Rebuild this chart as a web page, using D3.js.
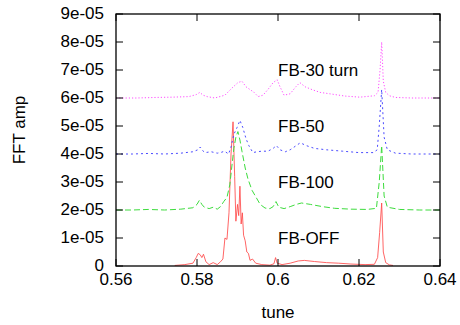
<!DOCTYPE html>
<html>
<head>
<meta charset="utf-8">
<script src="https://cdn.jsdelivr.net/npm/d3@7"></script>
<style>
	body { margin: 0; background: #fff; }
	svg { font-family: 'Liberation Sans', Arial, sans-serif; }
</style>
</head>
<body>
<svg width="460" height="325"></svg>
<script>
// amplitudes are in units of 1e-5
const offTune = [0.5745, 0.577, 0.579, 0.5798, 0.5803, 0.5808, 0.5812, 0.5816, 0.5822, 0.583, 0.584, 0.585, 0.5858, 0.5864, 0.5869, 0.5874, 0.5879, 0.5884, 0.5889, 0.5893, 0.5896, 0.59, 0.5903, 0.5906, 0.5909, 0.5912, 0.5915, 0.5919, 0.5923, 0.5927, 0.5931, 0.5937, 0.5945, 0.596, 0.598, 0.599, 0.5994, 0.5998, 0.601, 0.603, 0.605, 0.6065, 0.609, 0.612, 0.615, 0.618, 0.6215, 0.6238, 0.6246, 0.6251, 0.6256, 0.626, 0.6266, 0.6275, 0.6284];
const offAmp = [0.02, 0.05, 0.1, 0.3, 0.45, 0.4, 0.3, 0.42, 0.15, 0.05, 0.12, 0.05, 0.15, 0.25, 1.0, 0.95, 1.9, 4.0, 5.15, 3.2, 1.6, 2.2, 1.8, 2.85, 1.5, 1.9, 1.1, 0.9, 0.5, 0.45, 0.2, 0.25, 0.1, 0.05, 0.03, 0.08, 0.3, 0.1, 0.05, 0.1, 0.18, 0.2, 0.16, 0.12, 0.1, 0.07, 0.05, 0.06, 0.3, 1.2, 2.25, 0.5, 0.12, 0.04, 0.02];

const fb100Tune = [0.56, 0.564, 0.568, 0.572, 0.576, 0.579, 0.58, 0.5806, 0.5812, 0.5818, 0.583, 0.584, 0.585, 0.5858, 0.5866, 0.5874, 0.5881, 0.5891, 0.5896, 0.5901, 0.5906, 0.5911, 0.5919, 0.5926, 0.5936, 0.5946, 0.5956, 0.5968, 0.598, 0.5988, 0.5995, 0.6002, 0.6015, 0.603, 0.6045, 0.6058, 0.608, 0.611, 0.614, 0.618, 0.622, 0.6243, 0.625, 0.6256, 0.6262, 0.627, 0.63, 0.635, 0.64];
const fb100Amp = [2.0, 2.0, 2.02, 2.0, 2.03, 2.08, 2.2, 2.35, 2.2, 2.1, 2.05, 2.1, 2.03, 2.12, 2.3, 2.45, 2.9, 4.2, 4.6, 4.8, 4.5, 4.1, 3.5, 3.1, 2.7, 2.45, 2.2, 2.07, 2.05, 2.12, 2.3, 2.1, 2.05, 2.12, 2.2, 2.25, 2.2, 2.12, 2.06, 2.03, 2.02, 2.06, 3.0, 4.3, 2.5, 2.1, 2.02, 2.0, 2.0];

const fb50Tune = [0.56, 0.564, 0.568, 0.572, 0.576, 0.579, 0.5802, 0.5808, 0.5814, 0.582, 0.5835, 0.585, 0.586, 0.5868, 0.5878, 0.5884, 0.5891, 0.5899, 0.5906, 0.5913, 0.5921, 0.5928, 0.5938, 0.5948, 0.596, 0.5975, 0.5988, 0.5996, 0.6005, 0.6018, 0.603, 0.6045, 0.6055, 0.607, 0.609, 0.612, 0.616, 0.62, 0.6235, 0.6245, 0.625, 0.6256, 0.6262, 0.627, 0.629, 0.633, 0.64];
const fb50Amp = [4.0, 4.0, 4.02, 4.0, 4.03, 4.08, 4.15, 4.25, 4.12, 4.05, 4.08, 4.03, 4.06, 4.1, 4.0, 4.25, 4.7, 4.95, 5.2, 4.95, 4.55, 4.3, 4.05, 4.08, 4.1, 4.1, 4.2, 4.3, 4.15, 4.08, 4.15, 4.3, 4.4, 4.3, 4.2, 4.15, 4.1, 4.05, 4.05, 4.15, 5.0, 6.3, 4.6, 4.15, 4.03, 4.0, 4.0];

const fb30Tune = [0.56, 0.565, 0.57, 0.574, 0.578, 0.5798, 0.5807, 0.5815, 0.5825, 0.5844, 0.5869, 0.5886, 0.5901, 0.5911, 0.5921, 0.5931, 0.5941, 0.5951, 0.5963, 0.5975, 0.5988, 0.5998, 0.6005, 0.6015, 0.603, 0.6044, 0.6054, 0.6067, 0.6084, 0.6104, 0.6128, 0.6165, 0.6202, 0.6238, 0.6247, 0.6252, 0.6256, 0.626, 0.6266, 0.6275, 0.629, 0.633, 0.64];
const fb30Amp = [6.0, 6.0, 6.02, 6.03, 6.05, 6.12, 6.2, 6.1, 6.05, 6.0, 6.1, 6.35, 6.55, 6.6, 6.4, 6.3, 6.2, 6.05, 6.1, 6.3, 6.55, 6.65, 6.4, 6.1, 6.15, 6.4, 6.55, 6.4, 6.3, 6.2, 6.15, 6.07, 6.03, 6.08, 6.2, 7.0, 8.0, 6.6, 6.2, 6.08, 6.02, 6.0, 6.0];

const seriesNames = ['FB-OFF', 'FB-100', 'FB-50', 'FB-30 turn'];
const labelPos = [[0.6, 1], [0.6, 3], [0.6, 5], [0.6, 7]];

const xTicks = [0.56, 0.58, 0.6, 0.62, 0.64];
const xTickLabels = ['0.56', '0.58', '0.6', '0.62', '0.64'];
const yTicks = [0, 1, 2, 3, 4, 5, 6, 7, 8, 9];
const yTickLabels = ['0', '1e-05', '2e-05', '3e-05', '4e-05', '5e-05', '6e-05', '7e-05', '8e-05', '9e-05'];

let svg = d3.select('svg'),
	margin = {top: 14, right: 20, bottom: 59, left: 116},
	width = +svg.attr('width') - margin.left - margin.right,
	height = +svg.attr('height') - margin.top - margin.bottom,
	g = svg.append('g').attr('transform', `translate(${margin.left}, ${margin.top})`);

let x = d3.scaleLinear().domain([0.56, 0.64]).range([0, width]),
	y = d3.scaleLinear().domain([0, 9]).range([height, 0]);

let line = d3.line()
	.x(d => x(d[0]))
	.y(d => y(d[1]));

let series = [
	{data: d3.zip(offTune, offAmp), color: '#ff4a4a', dash: null, opacity: 0.85},
	{data: d3.zip(fb100Tune, fb100Amp), color: '#3ddc3d', dash: '6,3', opacity: 1},
	{data: d3.zip(fb50Tune, fb50Amp), color: '#4b4bff', dash: '2,3', opacity: 1},
	{data: d3.zip(fb30Tune, fb30Amp), color: '#ff4dff', dash: '1.2,2', opacity: 1}
];

series.forEach(s => {
	g.append('path')
		.datum(s.data)
		.attr('fill', 'none')
		.attr('stroke', s.color)
		.attr('stroke-width', 1)
		.attr('stroke-opacity', s.opacity)
		.attr('stroke-dasharray', s.dash)
		.attr('stroke-linejoin', 'round')
		.attr('d', line);
});

// ticks on all four sides, pointing in
let tickLen = 7;
let ticks = g.append('g').attr('stroke', '#000').attr('stroke-width', 1);
xTicks.forEach(t => {
	ticks.append('line').attr('x1', x(t)).attr('x2', x(t)).attr('y1', height).attr('y2', height - tickLen);
	ticks.append('line').attr('x1', x(t)).attr('x2', x(t)).attr('y1', 0).attr('y2', tickLen);
});
yTicks.forEach(t => {
	ticks.append('line').attr('x1', 0).attr('x2', tickLen).attr('y1', y(t)).attr('y2', y(t));
	ticks.append('line').attr('x1', width).attr('x2', width - tickLen).attr('y1', y(t)).attr('y2', y(t));
});

g.append('rect')
	.attr('width', width)
	.attr('height', height)
	.attr('fill', 'none')
	.attr('stroke', '#000')
	.attr('stroke-width', 1.3);

g.selectAll('text.xlab')
	.data(xTicks)
	.enter()
	.append('text')
	.attr('class', 'xlab')
	.attr('x', d => x(d))
	.attr('y', height + 19)
	.attr('text-anchor', 'middle')
	.attr('font-size', 17)
	.text((d, i) => xTickLabels[i]);

g.selectAll('text.ylab')
	.data(yTicks)
	.enter()
	.append('text')
	.attr('class', 'ylab')
	.attr('x', -12)
	.attr('y', d => y(d))
	.attr('dy', '0.3em')
	.attr('text-anchor', 'end')
	.attr('font-size', 17)
	.text((d, i) => yTickLabels[i]);

g.selectAll('text.series')
	.data(seriesNames)
	.enter()
	.append('text')
	.attr('class', 'series')
	.attr('x', (d, i) => x(labelPos[i][0]))
	.attr('y', (d, i) => y(labelPos[i][1]))
	.attr('dy', '0.35em')
	.attr('font-size', 17)
	.text(d => d);

svg.append('text')
	.attr('x', margin.left + width / 2)
	.attr('y', 318)
	.attr('text-anchor', 'middle')
	.attr('font-size', 17)
	.text('tune');

svg.append('text')
	.attr('transform', 'translate(25, 130) rotate(-90)')
	.attr('text-anchor', 'middle')
	.attr('font-size', 17)
	.text('FFT amp');
</script>
</body>
</html>
